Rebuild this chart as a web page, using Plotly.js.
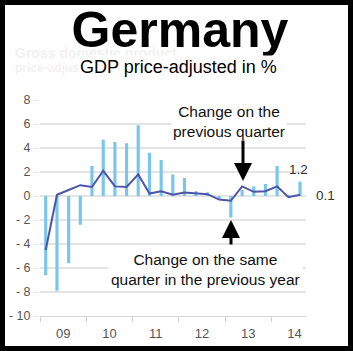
<!DOCTYPE html>
<html>
<head>
<meta charset="utf-8">
<script src="https://cdn.plot.ly/plotly-3.0.1.min.js"></script>
<style>html,body{margin:0;padding:0;background:#fff;}#chart{width:353px;height:351px;}</style>
</head>
<body>
<div id="chart"></div>
<script>
// ---- data ----
const years    = [2009,2009,2009,2009,2010,2010,2010,2010,2011,2011,2011,2011,2012,2012,2012,2012,2013,2013,2013,2013,2014,2014,2014];
const quarters = [1,2,3,4,1,2,3,4,1,2,3,4,1,2,3,4,1,2,3,4,1,2,3];
const yoyChange = [-6.6,-7.9,-5.6,-2.4, 2.5,4.7,4.5,4.4, 5.9,3.6,3.0,1.8, 1.5,0.4,0.3,-0.2, -1.8,0.5,0.8,1.0, 2.5,0.1,1.2];
const qoqChange = [-4.5,0.1,0.5,0.9, 0.75,2.1,0.8,0.75, 1.8,0.2,0.4,0.1, 0.3,0.2,0.15,-0.3, -0.4,0.8,0.35,0.4, 0.8,-0.1,0.1];
const yTickVals = [8,6,4,2,0,-2,-4,-6,-8,-10];
const yTickText = ['8','6','4','2','0','- 2','- 4','- 6','- 8','- 10'];

const titleText = 'Germany';
const subtitleText = 'GDP price-adjusted in %';
const qoqLabel = 'Change on the<br>previous quarter';
const yoyLabel = 'Change on the same<br>quarter in the previous year';

// ---- build ----
const pad = n => (n < 10 ? '0' : '') + n;
const xDates = years.map((y, i) => y + '-' + pad(3 * (quarters[i] - 1) + 2) + '-15');
const last = xDates.length - 1;

const W = 353, H = 351;
const M = {l: 40, r: 47, t: 100, b: 35};
const PW = W - M.l - M.r, PH = H - M.t - M.b;
const px = x => (x - M.l) / PW;          // pixel -> paper x
const py = y => 1 - (y - M.t) / PH;      // pixel -> paper y

const bars = {
  type: 'bar', x: xDates, y: yoyChange,
  marker: {color: '#78c6ee', line: {width: 0}},
  hoverinfo: 'skip', showlegend: false
};
const line = {
  type: 'scatter', mode: 'lines', x: xDates, y: qoqChange,
  line: {color: '#4c55a8', width: 2},
  hoverinfo: 'skip', showlegend: false
};

const arial = 'Liberation Sans, Arial, sans-serif';

const layout = {
  width: W, height: H,
  margin: M,
  paper_bgcolor: '#fff', plot_bgcolor: '#fff',
  bargap: 0.72,
  showlegend: false,
  font: {family: arial},
  title: {
    text: '<b>' + titleText + '</b>',
    font: {family: arial, size: 50, color: '#000'},
    xref: 'container', yref: 'container',
    x: 180 / W, xanchor: 'center',
    y: 1 - 29 / H, yanchor: 'middle'
  },
  xaxis: {
    type: 'date',
    range: ['2009-01-01', '2014-10-01'],
    tick0: '2009-01-01', dtick: 'M12',
    ticklabelmode: 'period', tickformat: '%y',
    ticks: 'outside', ticklen: 5, tickcolor: '#cfcfcf', tickwidth: 1,
    showline: true, linecolor: '#d6d6d6', linewidth: 1,
    showgrid: false, zeroline: false,
    tickfont: {family: arial, size: 13, color: '#555'},
    fixedrange: true
  },
  yaxis: {
    range: [-10, 8],
    tickmode: 'array', tickvals: yTickVals, ticktext: yTickText,
    ticks: 'outside', ticklen: 6, tickcolor: '#e6e6e6',
    showgrid: true, gridcolor: '#e4e4e4', gridwidth: 1.5,
    zeroline: false, showline: false,
    tickfont: {family: arial, size: 12.5, color: '#555'},
    fixedrange: true
  },
  shapes: [{
    type: 'rect', xref: 'paper', yref: 'paper',
    x0: px(0), x1: px(W), y0: py(H), y1: py(0),
    line: {color: '#000', width: 10}, fillcolor: 'rgba(0,0,0,0)', layer: 'above'
  }],
  annotations: [
    {xref: 'paper', yref: 'paper', x: px(13), y: py(53), xanchor: 'left', yanchor: 'middle',
     text: '<b>Gross domestic product</b>', showarrow: false,
     font: {family: arial, size: 14, color: '#f1f1f1'}},
    {xref: 'paper', yref: 'paper', x: px(13), y: py(68), xanchor: 'left', yanchor: 'middle',
     text: '<b>price-adjusted in %</b>', showarrow: false,
     font: {family: arial, size: 12, color: '#f1f1f1'}},
    {xref: 'paper', yref: 'paper', x: px(178), y: py(67), xanchor: 'center', yanchor: 'middle',
     text: subtitleText, showarrow: false, bgcolor: '#fff', borderpad: 1,
     font: {family: arial, size: 18, color: '#000'}},
    {xref: 'paper', yref: 'paper', x: px(229), y: py(121), xanchor: 'center', yanchor: 'middle',
     text: qoqLabel, showarrow: false, bgcolor: '#fff', borderpad: 1,
     font: {family: arial, size: 15.5, color: '#111'}},
    {xref: 'paper', yref: 'paper', x: px(205), y: py(269), xanchor: 'center', yanchor: 'middle',
     text: yoyLabel, showarrow: false, bgcolor: '#fff', borderpad: 2,
     font: {family: arial, size: 15.5, color: '#111'}},
    {xref: 'paper', yref: 'paper', x: px(243), y: py(181), text: '', showarrow: true,
     ax: 0, ay: -42, arrowhead: 2, arrowsize: 1.2, arrowwidth: 3, arrowcolor: '#000'},
    {xref: 'paper', yref: 'paper', x: px(231), y: py(220), text: '', showarrow: true,
     ax: 0, ay: 26, arrowhead: 2, arrowsize: 1.2, arrowwidth: 3, arrowcolor: '#000'},
    {xref: 'x', yref: 'y', x: xDates[last], y: yoyChange[last], xanchor: 'center', yanchor: 'bottom',
     xshift: -2, yshift: 3,
     text: yoyChange[last].toFixed(1), showarrow: false,
     font: {family: arial, size: 13.5, color: '#333'}},
    {xref: 'x', yref: 'y', x: xDates[last], y: qoqChange[last], xanchor: 'left', yanchor: 'middle',
     xshift: 14, yshift: -1,
     text: qoqChange[last].toFixed(1), showarrow: false,
     font: {family: arial, size: 13.5, color: '#333'}}
  ]
};

Plotly.newPlot('chart', [bars, line], layout, {staticPlot: true, displayModeBar: false});
</script>
</body>
</html>
